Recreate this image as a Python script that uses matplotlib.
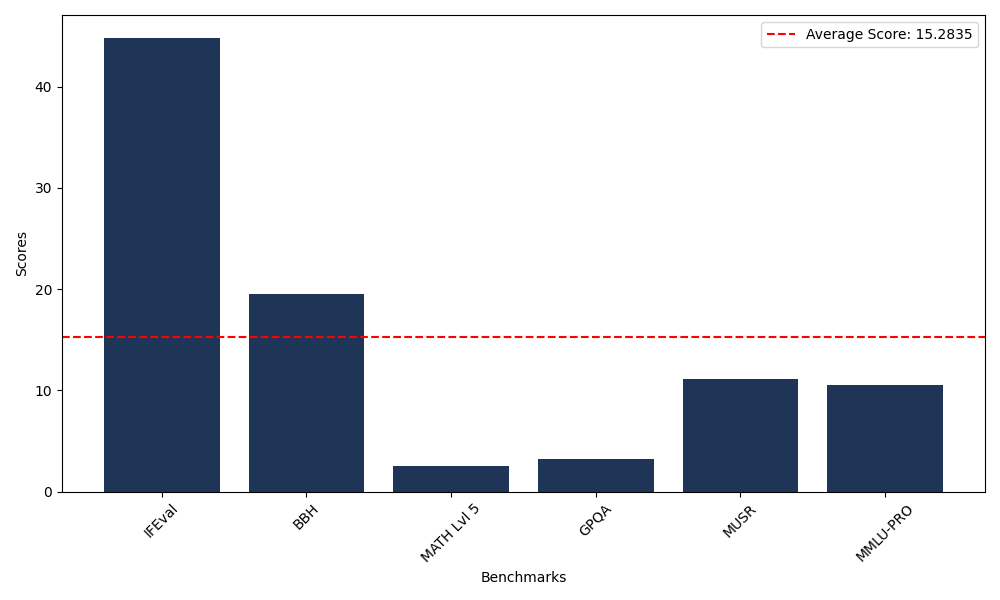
import matplotlib
matplotlib.use("Agg")
import matplotlib.pyplot as plt

benchmarks = ["IFEval", "BBH", "MATH Lvl 5", "GPQA", "MUSR", "MMLU-PRO"]
scores = [44.85, 19.53, 2.49, 3.24, 11.10, 10.49]
average_score = 15.2835

fig, ax = plt.subplots(figsize=(10, 6), dpi=100)
ax.bar(benchmarks, scores, color="#1f3557")
ax.axhline(average_score, color="red", linestyle="--",
           label=f"Average Score: {average_score}")
ax.set_xlabel("Benchmarks")
ax.set_ylabel("Scores")
plt.xticks(rotation=45)
ax.legend(loc="upper right")
plt.tight_layout()
plt.savefig("out.png")
